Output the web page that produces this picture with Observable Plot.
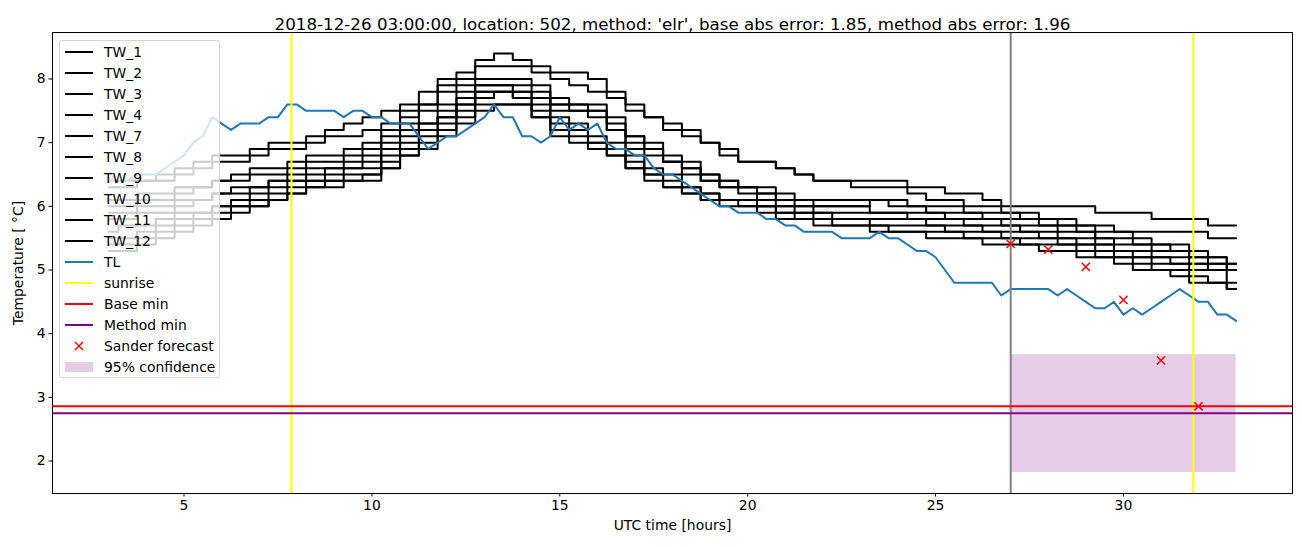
<!DOCTYPE html>
<html>
<head>
<meta charset="utf-8">
<script src="https://cdn.jsdelivr.net/npm/d3@7"></script>
<script src="https://cdn.jsdelivr.net/npm/@observablehq/plot@0.6"></script>
<style>
  body { margin: 0; background: #fff; }
  #wrap { position: relative; width: 1302px; height: 547px; font-family: "DejaVu Sans", sans-serif; color: #000; }
  #legend { position: absolute; left: 59px; top: 40px; width: 161px; height: 338px; box-sizing: border-box;
            background: rgba(255,255,255,0.8); border: 1px solid rgba(204,204,204,0.8); border-radius: 3px; }
  .row { position: absolute; left: 0; height: 20px; display: flex; align-items: center; font-size: 13.9px; white-space: nowrap; }
  .row svg { margin-left: 5px; margin-right: 11px; }
</style>
</head>
<body>
<div id="wrap"></div>
<script>
// ---------------- data ----------------
const titleText = "2018-12-26 03:00:00, location: 502, method: 'elr', base abs error: 1.85, method abs error: 1.96";
const xLabelText = "UTC time [hours]";
const yLabelText = "Temperature [ \u00b0C]";
const xTicks = [5, 10, 15, 20, 25, 30];
const yTicks = [2, 3, 4, 5, 6, 7, 8];

const twNames = ["TW_1", "TW_2", "TW_3", "TW_4", "TW_7", "TW_8", "TW_9", "TW_10", "TW_11", "TW_12"];
const twTimes = [3, 3.5, 4, 4.5, 5, 5.5, 6, 6.5, 7, 7.5, 8, 8.5, 9, 9.5, 10, 10.5, 11, 11.5, 12, 12.5,
  13, 13.5, 14, 14.5, 15, 15.5, 16, 16.5, 17, 17.5, 18, 18.5, 19, 19.5, 20, 20.5, 21, 21.5, 22, 22.5,
  23, 23.5, 24, 24.5, 25, 25.5, 26, 26.5, 27, 27.5, 28, 28.5, 29, 29.5, 30, 30.5, 31, 31.5, 32, 32.5, 33];

const tw1 = [6.4,6.4,6.4,6.5,6.6,6.7,6.8,6.8,6.9,7.0, 7.0,7.1,7.2,7.3,7.4,7.5,7.6,7.8,8.0,8.1,
  8.3,8.4,8.3,8.2,8.1,8.1,8.0,7.8,7.6,7.4, 7.3,7.2,7.0,6.8,6.7,6.7,6.6,6.5,6.4,6.4,
  6.4,6.4,6.4,6.3,6.3,6.2,6.2,6.1,6.0,6.0, 6.0,6.0,6.0,5.9,5.9,5.9,5.8,5.8,5.8,5.7, 5.7];
const tw2 = [6.3,6.3,6.4,6.4,6.5,6.6,6.7,6.7,6.8,6.9, 6.9,7.0,7.1,7.1,7.2,7.3,7.5,7.6,7.9,8.0,
  8.2,8.2,8.2,8.1,8.0,7.9,7.8,7.7,7.5,7.4, 7.2,7.1,7.0,6.9,6.7,6.7,6.6,6.5,6.4,6.4,
  6.3,6.3,6.3,6.2,6.1,6.1,6.0,6.0,5.9,5.8, 5.8,5.7,5.7,5.7,5.6,5.6,5.6,5.6,5.6,5.5, 5.5];
const tw3 = [6.1,6.1,6.2,6.2,6.3,6.3,6.4,6.5,6.6,6.6, 6.7,6.8,6.8,6.9,7.0,7.2,7.4,7.6,7.8,7.9,
  8.0,8.0,8.0,7.9,7.7,7.6,7.6,7.4,7.1,7.0, 6.8,6.7,6.5,6.4,6.3,6.3,6.2,6.1,6.1,6.1,
  6.1,6.1,6.1,6.0,6.0,6.0,5.9,5.9,5.9,5.9, 5.8,5.8,5.7,5.6,5.6,5.5,5.4,5.4,5.3,5.2, 5.1];
const tw4 = [6.0,6.0,6.1,6.1,6.2,6.3,6.4,6.4,6.5,6.5, 6.6,6.7,6.7,6.8,6.9,7.1,7.3,7.5,7.6,7.8,
  7.9,7.9,7.9,7.8,7.6,7.6,7.5,7.3,7.1,6.9, 6.7,6.6,6.5,6.4,6.3,6.2,6.1,6.1,6.0,6.0,
  6.0,6.1,6.0,6.0,5.9,5.9,5.9,5.8,5.8,5.8, 5.7,5.7,5.6,5.5,5.5,5.4,5.4,5.3,5.2,5.2, 5.1];
const tw7 = [5.9,5.9,6.0,6.0,6.1,6.1,6.2,6.3,6.3,6.4, 6.5,6.6,6.6,6.7,6.8,7.0,7.2,7.3,7.5,7.7,
  7.9,7.9,7.8,7.7,7.6,7.5,7.5,7.2,7.0,6.9, 6.7,6.6,6.4,6.3,6.3,6.2,6.1,6.0,6.0,6.0,
  6.0,5.9,5.9,5.9,5.9,5.8,5.8,5.8,5.7,5.7, 5.7,5.6,5.6,5.5,5.4,5.4,5.3,5.3,5.2,5.1, 5.0];
const tw8 = [5.8,5.8,5.9,5.9,6.0,6.1,6.2,6.2,6.3,6.4, 6.4,6.5,6.6,6.6,6.7,6.9,7.1,7.3,7.4,7.6,
  7.8,7.8,7.8,7.7,7.5,7.5,7.4,7.2,6.9,6.8, 6.7,6.5,6.4,6.3,6.2,6.1,6.0,6.0,5.9,5.9,
  5.9,5.9,5.9,5.8,5.8,5.8,5.7,5.7,5.7,5.6, 5.6,5.5,5.5,5.4,5.3,5.3,5.2,5.2,5.1,5.1, 5.0];
const tw9 = [5.6,5.7,5.7,5.8,5.9,5.9,6.0,6.1,6.2,6.3, 6.4,6.4,6.5,6.6,6.6,6.8,7.0,7.2,7.4,7.6,
  7.8,7.8,7.7,7.6,7.4,7.3,7.1,7.0,6.8,6.6, 6.5,6.3,6.2,6.1,6.1,6.0,6.0,5.9,5.9,5.8,
  5.8,5.8,5.8,5.8,5.7,5.7,5.7,5.6,5.6,5.6, 5.5,5.5,5.4,5.4,5.3,5.2,5.2,5.1,5.1,5.0, 5.0];
const tw10 = [5.5,5.5,5.6,5.7,5.8,5.9,6.0,6.0,6.1,6.2, 6.3,6.4,6.4,6.5,6.5,6.7,6.9,7.1,7.3,7.5,
  7.7,7.8,7.7,7.5,7.3,7.2,7.0,6.9,6.7,6.5, 6.4,6.3,6.2,6.1,6.1,6.0,5.9,5.9,5.8,5.8,
  5.8,5.7,5.7,5.7,5.7,5.6,5.6,5.6,5.5,5.5, 5.5,5.4,5.4,5.3,5.2,5.2,5.1,5.1,5.0,5.0, 4.8];
const tw11 = [5.4,5.4,5.5,5.6,5.7,5.8,5.9,6.0,6.0,6.1, 6.2,6.3,6.4,6.4,6.5,6.6,6.8,7.0,7.2,7.4,
  7.6,7.6,7.6,7.4,7.2,7.1,7.0,6.8,6.6,6.5, 6.3,6.2,6.1,6.1,6.0,6.0,5.9,5.8,5.8,5.7,
  5.7,5.7,5.6,5.6,5.6,5.6,5.5,5.5,5.5,5.4, 5.4,5.4,5.3,5.2,5.2,5.1,5.0,5.0,4.9,4.8, 4.7];
const tw12 = [5.3,5.3,5.4,5.5,5.6,5.7,5.8,5.9,6.0,6.1, 6.2,6.3,6.3,6.4,6.4,6.6,6.8,6.9,7.1,7.3,
  7.5,7.6,7.6,7.4,7.1,7.0,6.9,6.8,6.6,6.4, 6.3,6.2,6.1,6.0,6.0,5.9,5.8,5.8,5.7,5.7,
  5.7,5.6,5.6,5.6,5.5,5.5,5.5,5.4,5.4,5.4, 5.3,5.3,5.2,5.2,5.1,5.0,5.0,4.9,4.8,4.8, 4.7];
const twSeries = [tw1, tw2, tw3, tw4, tw7, tw8, tw9, tw10, tw11, tw12];

const tlTimes = [3, 3.25, 3.5, 3.75, 4, 4.25, 4.5, 4.75, 5, 5.25, 5.5, 5.75, 6, 6.25, 6.5, 6.75, 7, 7.25, 7.5, 7.75,
  8, 8.25, 8.5, 8.75, 9, 9.25, 9.5, 9.75, 10, 10.25, 10.5, 10.75, 11, 11.25, 11.5, 11.75, 12, 12.25, 12.5, 12.75,
  13, 13.25, 13.5, 13.75, 14, 14.25, 14.5, 14.75, 15, 15.25, 15.5, 15.75, 16, 16.25, 16.5, 16.75, 17, 17.25, 17.5, 17.75,
  18, 18.25, 18.5, 18.75, 19, 19.25, 19.5, 19.75, 20, 20.25, 20.5, 20.75, 21, 21.25, 21.5, 21.75, 22, 22.25, 22.5, 22.75,
  23, 23.25, 23.5, 23.75, 24, 24.25, 24.5, 24.75, 25, 25.25, 25.5, 25.75, 26, 26.25, 26.5, 26.75, 27, 27.25, 27.5, 27.75,
  28, 28.25, 28.5, 28.75, 29, 29.25, 29.5, 29.75, 30, 30.25, 30.5, 30.75, 31, 31.25, 31.5, 31.75, 32, 32.25, 32.5, 32.75, 33];
const tlValues = [6.4,6.4,6.4,6.5,6.5,6.5,6.6,6.7,6.8,7.0,
  7.1,7.4,7.3,7.2,7.3,7.3,7.3,7.4,7.4,7.6,
  7.6,7.5,7.5,7.5,7.5,7.4,7.5,7.5,7.4,7.4,
  7.3,7.3,7.3,7.1,6.9,7.0,7.1,7.1,7.2,7.3,
  7.4,7.6,7.4,7.4,7.1,7.1,7.0,7.1,7.4,7.2,
  7.3,7.2,7.3,7.0,6.9,6.9,6.8,6.8,6.6,6.5,
  6.5,6.4,6.3,6.2,6.1,6.0,6.0,5.9,5.9,5.9,
  5.8,5.8,5.7,5.7,5.6,5.6,5.6,5.6,5.5,5.5,
  5.5,5.5,5.6,5.5,5.5,5.4,5.3,5.3,5.2,5.0,
  4.8,4.8,4.8,4.8,4.8,4.6,4.7,4.7,4.7,4.7,
  4.7,4.6,4.7,4.6,4.5,4.4,4.4,4.5,4.3,4.4,
  4.3,4.4,4.5,4.6,4.7,4.6,4.5,4.5,4.3,4.3,
  4.2];

const sunriseTimes = [7.86, 31.86];
const forecastStart = 27;
const baseMin = 2.86;
const methodMin = 2.75;
const forecastTimes = [27, 28, 29, 30, 31, 32];
const forecastValues = [5.41, 5.32, 5.05, 4.53, 3.58, 2.86];
const confTimes = [27, 33];
const confBounds = [1.82, 3.67];

const legendLabels = ["TW_1", "TW_2", "TW_3", "TW_4", "TW_7", "TW_8", "TW_9", "TW_10", "TW_11", "TW_12",
  "TL", "sunrise", "Base min", "Method min", "Sander forecast", "95% confidence"];

// ---------------- tables ----------------
const twData = twNames.flatMap((name, k) => twSeries[k].map((v, i) => ({name, t: twTimes[i], v})));
const tlData = tlTimes.map((t, i) => ({t, v: tlValues[i]}));
const fcData = forecastTimes.map((t, i) => ({t, v: forecastValues[i]}));
const confData = [{x1: confTimes[0], x2: confTimes[1], y1: confBounds[0], y2: confBounds[1]}];

const LW = 2;
const chart = Plot.plot({
  width: 1302,
  height: 547,
  marginLeft: 52,
  marginRight: 10,
  marginTop: 32,
  marginBottom: 54,
  style: {fontFamily: "DejaVu Sans, sans-serif", fontSize: "13.9px", background: "white", color: "black", overflow: "visible"},
  x: {domain: [1.5, 34.5]},
  y: {domain: [1.49, 8.73]},
  marks: [
    Plot.rect(confData, {x1: "x1", x2: "x2", y1: "y1", y2: "y2", fill: "purple", fillOpacity: 0.2}),
    Plot.line(twData, {x: "t", y: "v", z: "name", stroke: "black", strokeWidth: LW, curve: "step"}),
    Plot.line(tlData, {x: "t", y: "v", stroke: "#1f77b4", strokeWidth: LW}),
    Plot.ruleX(sunriseTimes, {stroke: "yellow", strokeWidth: LW}),
    Plot.ruleX([forecastStart], {stroke: "grey", strokeWidth: LW}),
    Plot.ruleY([baseMin], {stroke: "red", strokeWidth: LW}),
    Plot.ruleY([methodMin], {stroke: "purple", strokeWidth: LW}),
    Plot.dot(fcData, {x: "t", y: "v", symbol: "times", r: 3.8, stroke: "red", strokeWidth: 1.5}),
    Plot.frame({stroke: "black", strokeWidth: 1}),
    Plot.axisX({ticks: xTicks, tickSize: 3.5, tickPadding: 3.5, label: null, tickFormat: d => String(d)}),
    Plot.axisY({ticks: yTicks, tickSize: 3.5, tickPadding: 3.5, label: null, tickFormat: d => String(d)}),
    Plot.text([titleText], {frameAnchor: "top", dy: -14, fontSize: 16.7, fill: "black", textAnchor: "middle"}),
    Plot.text([xLabelText], {frameAnchor: "bottom", dy: 36, fill: "black", textAnchor: "middle"}),
    Plot.text([yLabelText], {frameAnchor: "left", dx: -34, rotate: -90, fill: "black", textAnchor: "middle"})
  ]
});

const wrap = document.getElementById("wrap");
wrap.appendChild(chart);

// ---------------- legend ----------------
const legend = document.createElement("div");
legend.id = "legend";
const handle = (label, i) => {
  const ln = c => `<line x1="0" x2="28" y1="5" y2="5" stroke="${c}" stroke-width="${LW}"/>`;
  if (i < 10) return ln("black");
  if (label === "TL") return ln("#1f77b4");
  if (label === "sunrise") return ln("yellow");
  if (label === "Base min") return ln("red");
  if (label === "Method min") return ln("purple");
  if (label === "Sander forecast") return `<path d="M10,1L18,9M18,1L10,9" stroke="red" stroke-width="1.5"/>`;
  return `<rect x="0" y="0" width="28" height="10" fill="purple" fill-opacity="0.2"/>`;
};
legendLabels.forEach((label, i) => {
  const row = document.createElement("div");
  row.className = "row";
  row.style.top = (1 + 21 * i) + "px";
  row.innerHTML = `<svg width="28" height="10" style="overflow:visible">${handle(label, i)}</svg><span>${label}</span>`;
  legend.appendChild(row);
});
wrap.appendChild(legend);
</script>
</body>
</html>
